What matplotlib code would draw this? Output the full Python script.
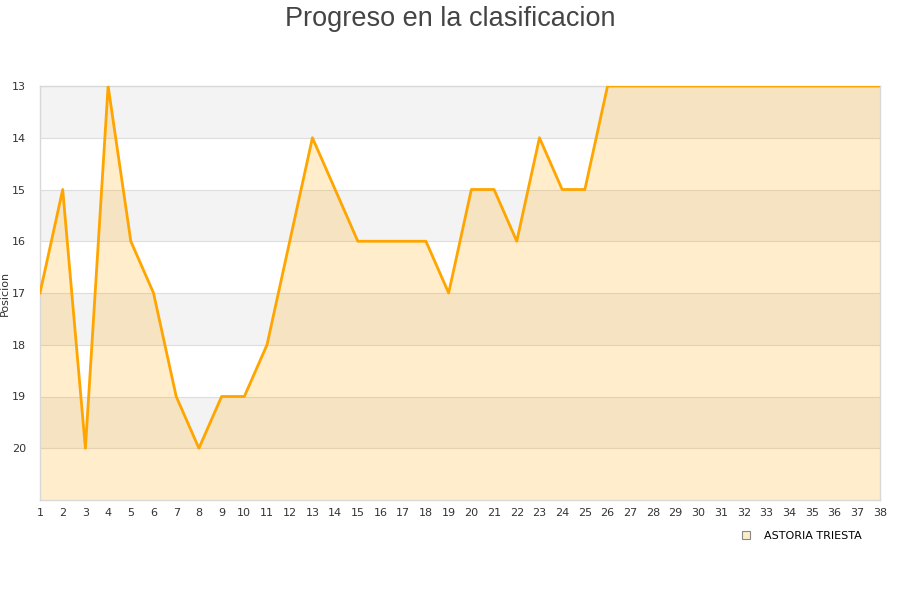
import matplotlib
matplotlib.use("Agg")
import matplotlib.pyplot as plt
from matplotlib.lines import Line2D

jornadas = list(range(1, 39))
posiciones = [17, 15, 20, 13, 16, 17, 19, 20, 19, 19, 18, 16, 14, 15, 16, 16, 16, 16, 17,
              15, 15, 16, 14, 15, 15, 13, 13, 13, 13, 13, 13, 13, 13, 13, 13, 13, 13, 13]
team = "ASTORIA TRIESTA"
y_ticks = [13, 14, 15, 16, 17, 18, 19, 20]

fig = plt.figure(figsize=(9, 6), dpi=100)
ax = fig.add_axes([40/900, 1 - 500/600, 840/900, 414/600])

# alternating bands
for i, y in enumerate(range(13, 21)):
    ax.axhspan(y, y + 1, color="#f3f3f3" if i % 2 == 0 else "white", zorder=0, lw=0)
for y in y_ticks:
    ax.axhline(y, color="#dddddd", lw=0.8, zorder=1)

ax.fill_between(jornadas, posiciones, 21, color="#ffa500", alpha=0.2, lw=0, zorder=2)
ax.plot(jornadas, posiciones, color="#ffa500", lw=2, zorder=3)

ax.set_xlim(1, 38)
ax.set_ylim(21, 13)
ax.set_xticks(jornadas)
ax.set_yticks(y_ticks)
ax.tick_params(axis="both", length=0, labelsize=8, colors="#333333", pad=6)
ax.tick_params(axis="y", pad=10)
for s in ax.spines.values():
    s.set_color("#d8d8d8")
    s.set_linewidth(1)
ax.set_ylabel("Posicion", fontsize=8, color="#333333")
ax.yaxis.set_label_coords(-0.036, 0.5)

fig.text(0.5, 0.99, "Progreso en la clasificacion", ha="center", va="top",
         fontsize=19.5, color="#444444", family="Liberation Sans")

handle = Line2D([], [], marker="s", linestyle="none", markersize=6,
                markerfacecolor="#fdecc8", markeredgecolor="#888888", markeredgewidth=0.8)
fig.legend([handle], [team], loc="center right", bbox_to_anchor=(872/900, 1 - 536/600),
           frameon=False, fontsize=8, handletextpad=0.6)

fig.savefig("out.png", dpi=100)
